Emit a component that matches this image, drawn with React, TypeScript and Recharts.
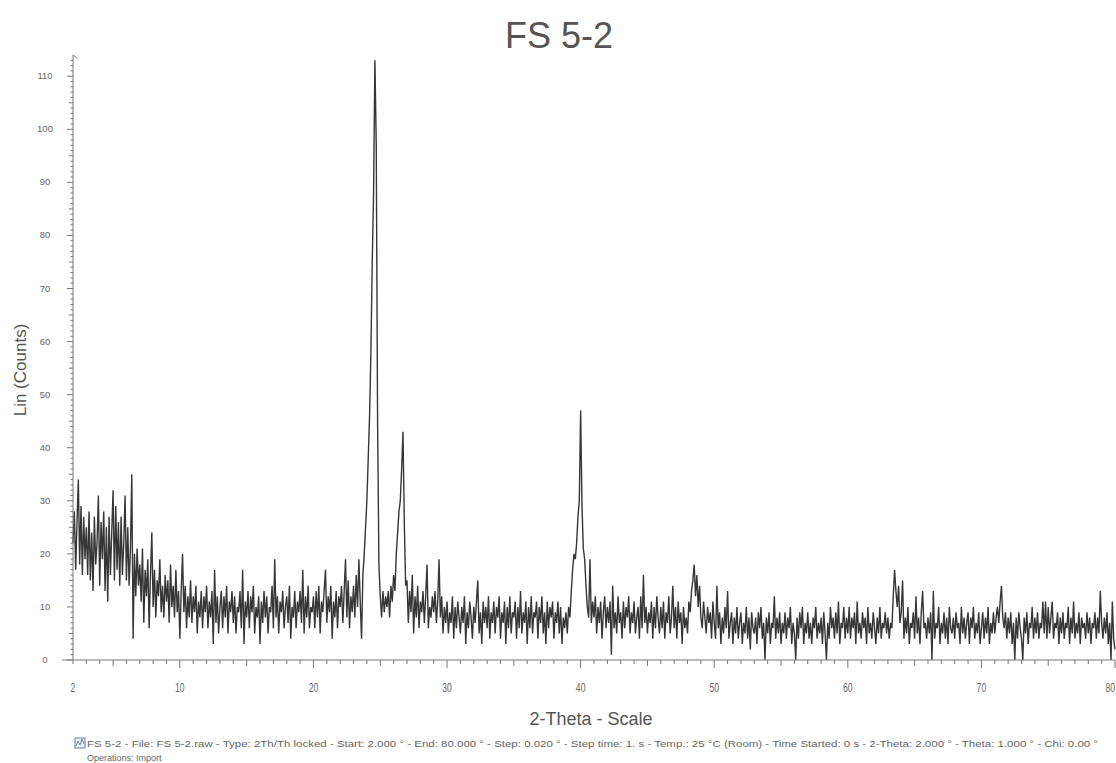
import { LineChart, Line, XAxis, YAxis } from 'recharts'

// XRD scan FS 5-2, counts every 0.1 degree 2-theta
const STEP = 0.1

const counts02to10 = [
  22, 28, 17, 26, 34, 18, 29, 16, 27, 19,
  25, 16, 28, 15, 24, 13, 27, 18, 22, 31,
  14, 26, 19, 28, 13, 25, 11, 27, 16, 24,
  32, 15, 29, 17, 26, 14, 27, 16, 22, 31,
  15, 25, 14, 21, 35, 4, 20, 12, 21, 14,
  18, 11, 21, 7, 17, 12, 19, 6, 16, 24,
  10, 17, 8, 15, 12, 19, 9, 14, 8, 16,
  11, 15, 7, 18, 10, 14, 8, 17, 9, 13,
]
const counts10to20 = [
  4, 13, 20, 9, 14, 6, 12, 8, 15, 7,
  12, 9, 14, 5, 11, 8, 13, 6, 12, 9,
  14, 6, 11, 8, 13, 3, 17, 7, 12, 5,
  10, 13, 6, 12, 8, 14, 5, 11, 9, 13,
  7, 12, 5, 10, 9, 13, 6, 17, 3, 11,
  8, 13, 6, 12, 9, 14, 5, 10, 8, 12,
  3, 11, 7, 13, 8, 12, 5, 10, 9, 14,
  6, 19, 8, 12, 5, 11, 9, 13, 6, 10,
  12, 7, 14, 4, 10, 8, 13, 6, 11, 9,
  13, 7, 17, 5, 12, 8, 14, 6, 10, 9,
]
const counts20to30 = [
  12, 6, 13, 8, 14, 5, 11, 9, 13, 17,
  7, 12, 9, 14, 4, 11, 8, 13, 6, 12,
  10, 14, 7, 13, 19, 8, 15, 6, 12, 9,
  14, 8, 16, 10, 19, 11, 4, 16, 20, 25,
  30, 38, 46, 58, 75, 88, 113, 97, 45, 18,
  12, 8, 13, 9, 12, 10, 13, 8, 14, 11,
  16, 13, 20, 24, 28, 30, 36, 43, 26, 14,
  15, 7, 13, 9, 16, 5, 12, 8, 14, 6,
  11, 9, 13, 7, 12, 18, 6, 10, 8, 12,
  9, 13, 7, 11, 19, 8, 12, 5, 10, 7,
]
const counts30to40 = [
  11, 5, 9, 7, 12, 4, 10, 6, 11, 8,
  5, 10, 7, 12, 3, 9, 6, 11, 8, 4,
  10, 7, 11, 15, 5, 9, 3, 11, 7, 10,
  6, 12, 4, 9, 7, 11, 5, 10, 8, 12,
  4, 9, 7, 11, 3, 10, 6, 12, 5, 9,
  8, 11, 4, 10, 6, 13, 5, 9, 7, 11,
  3, 10, 6, 12, 5, 9, 8, 11, 4, 10,
  7, 12, 5, 9, 3, 11, 6, 10, 8, 11,
  4, 9, 7, 11, 5, 10, 3, 8, 6, 9,
  5, 10, 8, 13, 17, 20, 19, 22, 27, 30,
]
const counts40to50 = [
  47, 29, 21, 19, 14, 10, 8, 19, 7, 11,
  8, 12, 5, 10, 7, 11, 4, 9, 12, 6,
  10, 7, 11, 1, 14, 6, 9, 5, 12, 7,
  9, 4, 11, 6, 10, 8, 12, 5, 9, 7,
  11, 5, 8, 10, 4, 12, 6, 16, 7, 10,
  5, 9, 7, 11, 4, 10, 6, 12, 8, 5,
  10, 6, 11, 4, 9, 7, 12, 5, 8, 14,
  6, 10, 4, 11, 7, 9, 3, 10, 6, 8,
  5, 11, 9, 13, 15, 18, 12, 16, 10, 14,
  8, 6, 11, 8, 5, 10, 7, 9, 4, 11,
]
const counts50to60 = [
  7, 4, 14, 6, 9, 3, 8, 5, 10, 6,
  13, 4, 7, 9, 3, 8, 5, 10, 4, 7,
  9, 3, 7, 5, 10, 4, 8, 2, 9, 6,
  5, 8, 3, 9, 6, 10, 4, 7, 0, 8,
  5, 9, 3, 7, 6, 12, 4, 8, 5, 9,
  3, 7, 5, 9, 4, 8, 6, 10, 3, 7,
  5, 0, 8, 4, 9, 6, 10, 3, 7, 5,
  9, 4, 7, 3, 8, 6, 10, 4, 7, 5,
  8, 3, 9, 5, 0, 7, 4, 10, 6, 8,
  4, 9, 5, 11, 3, 7, 6, 10, 4, 8,
]
const counts60to70 = [
  5, 10, 4, 8, 6, 9, 3, 11, 5, 7,
  4, 9, 6, 8, 3, 10, 5, 7, 4, 9,
  6, 3, 8, 5, 10, 4, 7, 6, 9, 5,
  8, 4, 7, 6, 12, 17, 13, 10, 14, 7,
  9, 15, 4, 8, 5, 10, 3, 7, 6, 9,
  4, 12, 5, 8, 3, 9, 13, 6, 7, 4,
  8, 5, 9, 0, 13, 4, 7, 6, 10, 3,
  7, 5, 9, 4, 8, 3, 10, 6, 5, 8,
  4, 9, 6, 7, 3, 10, 5, 8, 4, 7,
  9, 3, 8, 6, 10, 4, 7, 5, 9, 3,
]
const counts70to80 = [
  6, 9, 4, 8, 5, 10, 3, 7, 5, 9,
  5, 8, 10, 7, 11, 14, 8, 6, 9, 4,
  8, 5, 9, 3, 7, 0, 8, 4, 9, 6,
  4, 0, 8, 5, 9, 3, 7, 6, 10, 4,
  8, 5, 9, 4, 7, 6, 11, 5, 11, 4,
  10, 5, 8, 11, 4, 7, 6, 9, 3, 8,
  5, 9, 4, 7, 6, 10, 3, 8, 5, 11,
  4, 7, 5, 9, 3, 8, 6, 7, 4, 9,
  5, 8, 3, 7, 6, 9, 4, 8, 5, 13,
  7, 4, 8, 5, 9, 3, 7, 0, 11, 4,
  2,
]

const segments: Array<[number, number[]]> = [
  [2, counts02to10],
  [10, counts10to20],
  [20, counts20to30],
  [30, counts30to40],
  [40, counts40to50],
  [50, counts50to60],
  [60, counts60to70],
  [70, counts70to80],
]

const xLabels = [2, 10, 20, 30, 40, 50, 60, 70, 80]
const xTicks = Array.from({ length: 79 }, (_, i) => i + 2)
const yTicks = Array.from({ length: 114 }, (_, i) => i)

const data = segments.flatMap(([start, arr]) =>
  arr.map((c, i) => ({ theta: +(start + i * STEP).toFixed(2), counts: c }))
)

const AXIS = '#777'
const TXT = '#666'

function XTick(props: any) {
  const { x, y, payload } = props
  const v = payload.value
  const len = v % 10 === 0 ? 8 : v % 5 === 0 ? 6 : 4
  // last label would hang off the page edge, so pin it to the right
  const anchor = v === 80 ? 'end' : 'middle'
  return (
    <g>
      <line x1={x} y1={y} x2={x} y2={y + len} stroke={AXIS} strokeWidth={1} />
      {xLabels.includes(v) && (
        <text
          transform={`translate(${x},${y + 32}) scale(0.72,1)`}
          textAnchor={anchor}
          fontSize={12}
          fill={TXT}
        >
          {v}
        </text>
      )}
    </g>
  )
}

function YTick(props: any) {
  const { x, y, payload } = props
  const v = payload.value
  const len = v % 10 === 0 ? 6 : v % 5 === 0 ? 4 : 2.5
  return (
    <g>
      <line x1={x} y1={y} x2={x - len} y2={y} stroke={AXIS} strokeWidth={1} />
      {v % 10 === 0 && (
        <text x={45} y={y + 3} textAnchor="middle" fontSize={9.5} fill={TXT}>
          {v}
        </text>
      )}
    </g>
  )
}

export default function App() {
  return (
    <div
      style={{
        position: 'absolute',
        left: 0,
        top: 0,
        width: 1116,
        height: 763,
        background: '#fff',
        fontFamily: '"Liberation Sans", Arial, sans-serif',
      }}
    >
      <LineChart width={1116} height={763} data={data} margin={{ top: 55, right: 1, left: 0, bottom: 0 }}>
        <XAxis
          dataKey="theta"
          type="number"
          domain={[2, 80]}
          ticks={xTicks}
          interval={0}
          height={103}
          tickSize={0}
          tickMargin={0}
          tickLine={false}
          stroke={AXIS}
          tick={(p: any) => <XTick {...p} />}
        />
        <YAxis
          type="number"
          domain={[0, 114]}
          ticks={yTicks}
          interval={0}
          width={73}
          tickSize={0}
          tickMargin={0}
          tickLine={false}
          stroke={AXIS}
          tick={(p: any) => <YTick {...p} />}
        />
        <Line
          type="linear"
          dataKey="counts"
          stroke="#363636"
          strokeWidth={1.4}
          strokeLinejoin="miter"
          dot={false}
          isAnimationActive={false}
        />
      </LineChart>
      <svg
        width={1116}
        height={763}
        style={{ position: 'absolute', left: 0, top: 0, pointerEvents: 'none' }}
      >
        <line x1={62} y1={660} x2={73} y2={660} stroke={AXIS} />
        <line x1={73} y1={55} x2={77} y2={58} stroke={AXIS} />
        <text x={559} y={48} textAnchor="middle" fontSize={36} fill="#555">
          FS 5-2
        </text>
        <text
          transform="translate(26,370) rotate(-90)"
          textAnchor="middle"
          fontSize={17}
          fill="#555"
        >
          Lin (Counts)
        </text>
        <text x={591} y={725} textAnchor="middle" fontSize={18} fill="#555">
          2-Theta - Scale
        </text>
        <rect x={75} y={738} width={10} height={10} fill="#eef2f8" stroke="#6b7fa8" strokeWidth={1} />
        <polyline points="76,746 78,741 80,745 82,739 84,744" fill="none" stroke="#6b7fa8" strokeWidth={1} />
        <text x={87} y={747} fontSize={9} fill={TXT} textLength={1011} lengthAdjust="spacingAndGlyphs">
          FS 5-2 - File: FS 5-2.raw - Type: 2Th/Th locked - Start: 2.000 ° - End: 80.000 ° - Step: 0.020 ° - Step time: 1. s - Temp.: 25 °C (Room) - Time Started: 0 s - 2-Theta: 2.000 ° - Theta: 1.000 ° - Chi: 0.00 °
        </text>
        <text x={87} y={761} fontSize={9} fill={TXT}>
          Operations: Import
        </text>
      </svg>
    </div>
  )
}
